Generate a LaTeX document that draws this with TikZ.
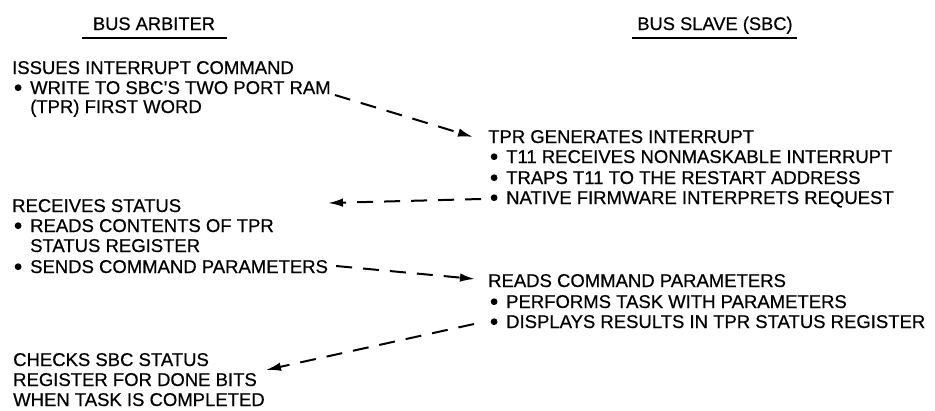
\documentclass[tikz,border=0pt]{standalone}
\usepackage{fontspec}
\setmainfont{Liberation Sans}[BoldFont=Liberation Sans,BoldFeatures={FakeBold=0.6}]
\usetikzlibrary{arrows.meta,calc}

% round bullet that hangs in front of an item line
\newcommand{\blt}{\makebox[18pt][l]{\hspace{2.5pt}\tikz[baseline=0pt]\fill (3.4pt,6.3pt) circle[radius=3.4pt];}}

\begin{document}
\begin{tikzpicture}[x=1pt,y=-1pt,
  txt/.style={anchor=base west,inner sep=0pt,font=\fontsize{18.5}{20}\selectfont\bfseries},
  head/.style={anchor=base,inner sep=0pt,font=\fontsize{18.3}{20}\selectfont\bfseries},
  rule/.style={line width=2pt},
  flow/.style={line width=2pt,dash pattern=on 16pt off 11pt,-{Latex[length=15pt,width=8.5pt]}}]
\useasboundingbox (0,0) rectangle (935,410);

% column headings
\node[head] (hA) at (154,30) {BUS ARBITER};
\node[head] (hS) at (715,30) {BUS SLAVE (SBC)};
\draw[rule] (82,37.5) -- (227,37.5);
\draw[rule] (632,37.5) -- (797,37.5);

% bus arbiter column
\node[txt] (iss1) at (12,74)  {ISSUES INTERRUPT COMMAND};
\node[txt] (iss2) at (12,94)  {\blt WRITE TO SBC’S TWO PORT RAM};
\node[txt] (iss3) at (30,113) {(TPR) FIRST WORD};

\node[txt] (rec1) at (12,212) {RECEIVES STATUS};
\node[txt] (rec2) at (12,232) {\blt READS CONTENTS OF TPR};
\node[txt] (rec3) at (30,252) {STATUS REGISTER};
\node[txt] (rec4) at (12,273) {\blt SENDS COMMAND PARAMETERS};

\node[txt] (chk1) at (13,366) {CHECKS SBC STATUS};
\node[txt] (chk2) at (13,386) {REGISTER FOR DONE BITS};
\node[txt] (chk3) at (13,406) {WHEN TASK IS COMPLETED};

% bus slave column
\node[txt] (gen1) at (488,143) {TPR GENERATES INTERRUPT};
\node[txt] (gen2) at (488,163) {\blt T11 RECEIVES NONMASKABLE INTERRUPT};
\node[txt] (gen3) at (488,184) {\blt TRAPS T11 TO THE RESTART ADDRESS};
\node[txt] (gen4) at (488,204) {\blt NATIVE FIRMWARE INTERPRETS REQUEST};

\node[txt] (cmd1) at (488,287) {READS COMMAND PARAMETERS};
\node[txt] (cmd2) at (488,308) {\blt PERFORMS TASK WITH PARAMETERS};
\node[txt] (cmd3) at (488,328) {\blt DISPLAYS RESULTS IN TPR STATUS REGISTER};

% free ends of the returning arrows
\coordinate (statusIn) at (328,203);
\coordinate (doneIn) at (266,370);

% message flow between the two boards
\draw[flow] ($(iss2.base east)+(4,1)$) -- ($(gen1.base west)+(-15,-6)$);
\draw[flow] ($(gen4.base west)+(-7,-5)$) -- (statusIn);
\draw[flow] ($(rec4.base east)+(8,-7)$) -- ($(cmd1.base west)+(-13,-8)$);
\draw[flow] ($(cmd3.base west)+(-14,-4)$) -- (doneIn);
\end{tikzpicture}
\end{document}
